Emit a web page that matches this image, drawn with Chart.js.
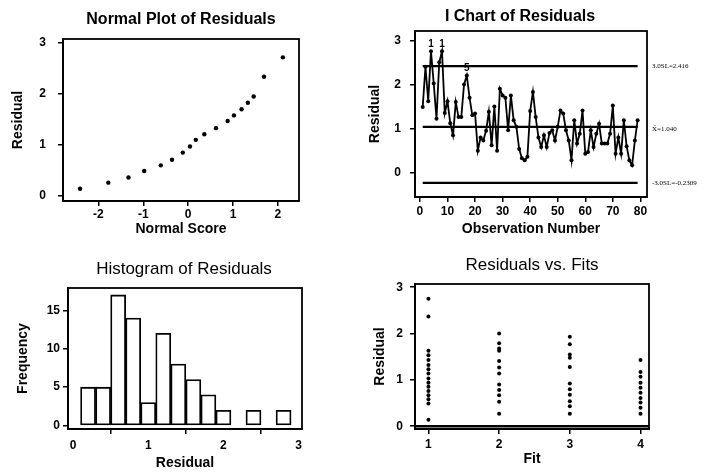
<!DOCTYPE html>
<html>
<head>
<meta charset="utf-8">
<script src="https://cdn.jsdelivr.net/npm/chart.js@4/dist/chart.umd.min.js"></script>
<style>
  html, body { margin: 0; padding: 0; background: #fff; }
  #wrap { position: relative; width: 704px; height: 472px; overflow: hidden; }
  canvas { position: absolute; }
</style>
</head>
<body>
<div id="wrap">
  <canvas id="normalPlot" width="352" height="236" style="left:0;top:0"></canvas>
  <canvas id="iChart" width="352" height="236" style="left:352px;top:0"></canvas>
  <canvas id="histogram" width="352" height="236" style="left:0;top:236px"></canvas>
  <canvas id="resVsFits" width="352" height="236" style="left:352px;top:236px"></canvas>
</div>
<script>
// ---- Normal probability plot ----
const normalScores    = [-2.41, -1.78, -1.33, -0.98, -0.61, -0.36, -0.12, 0.04, 0.17, 0.36, 0.62, 0.88, 1.02, 1.19, 1.33, 1.46, 1.69, 2.11];
const normalResiduals = [0.14, 0.26, 0.36, 0.49, 0.60, 0.71, 0.85, 0.97, 1.10, 1.21, 1.33, 1.47, 1.58, 1.70, 1.83, 1.95, 2.34, 2.72];
const normalXTicks = [-2, -1, 0, 1, 2];
const residualTicks = [0, 1, 2, 3];

// ---- Individuals chart, residual by observation order ----
const residualSeries = [
  1.49, 2.40, 1.62, 2.75, 2.02, 1.22, 2.50, 2.75, 1.35, 1.62,
  1.12, 0.85, 1.60, 1.26, 1.26, 2.00, 2.20, 1.70, 1.30, 1.34,
  0.50, 0.80, 0.73, 0.95, 1.38, 0.62, 1.50, 0.50, 1.90, 1.75,
  1.70, 0.96, 1.75, 1.19, 1.04, 0.54, 0.33, 0.28, 0.36, 1.40,
  1.83, 1.26, 0.80, 0.58, 0.85, 0.58, 0.90, 0.96, 0.73, 1.04,
  1.41, 1.34, 0.96, 0.73, 0.28, 1.19, 0.66, 0.88, 1.41, 0.43,
  0.47, 0.96, 0.58, 0.88, 1.11, 0.66, 0.66, 0.66, 0.88, 1.52,
  0.43, 0.80, 0.43, 1.19, 0.60, 0.28, 0.17, 0.73, 1.19
];
const upperLimit = 2.416;
const centerLine = 1.040;
const lowerLimit = -0.2309;
const controlLabels = ['3.0SL=2.416', 'X\u0304=1.040', '-3.0SL=-0.2309'];
// observations flagged by the special-cause tests, with the test number
const flaggedObs   = [4, 8, 17];
const flaggedTests = ['1', '1', '5'];
const observationTicks = [0, 10, 20, 30, 40, 50, 60, 70, 80];

// ---- Histogram of residuals ----
const binMids   = [0.2, 0.4, 0.6, 0.8, 1.0, 1.2, 1.4, 1.6, 1.8, 2.0, 2.2, 2.4, 2.6, 2.8];
const binCounts = [5, 5, 17, 14, 3, 12, 8, 6, 4, 2, 0, 2, 0, 2];
const histXTicks = [0, 1, 2, 3];
const frequencyTicks = [0, 5, 10, 15];

// ---- Residuals versus fitted values ----
const fitLevels = [1, 2, 3, 4];
const residualsAtFit1 = [2.75, 2.37, 1.63, 1.53, 1.43, 1.32, 1.23, 1.14, 1.03, 0.94, 0.85, 0.76, 0.67, 0.58, 0.49, 0.14];
const residualsAtFit2 = [2.00, 1.79, 1.68, 1.63, 1.41, 1.27, 1.14, 0.90, 0.78, 0.67, 0.53, 0.27];
const residualsAtFit3 = [1.93, 1.77, 1.55, 1.48, 1.28, 0.92, 0.80, 0.68, 0.54, 0.43, 0.27];
const residualsAtFit4 = [1.43, 1.17, 1.07, 0.94, 0.83, 0.72, 0.61, 0.51, 0.40, 0.27];

const FONT = "'Liberation Sans', Arial, Helvetica, sans-serif";

// Black frame round the plotting area
const framePlugin = {
  id: 'frame',
  afterDraw(chart) {
    const { ctx, chartArea: a } = chart;
    ctx.save();
    ctx.strokeStyle = '#000';
    ctx.lineWidth = 1.8;
    ctx.strokeRect(a.left, a.top, a.right - a.left, a.bottom - a.top);
    ctx.restore();
  }
};

// Panel heading placed at a fixed point of the canvas
function headingPlugin(text, x, y, font) {
  return {
    id: 'heading',
    afterDraw(chart) {
      const ctx = chart.ctx;
      ctx.save();
      ctx.fillStyle = '#000';
      ctx.font = font;
      ctx.textAlign = 'center';
      ctx.textBaseline = 'middle';
      ctx.fillText(text, x, y);
      ctx.restore();
    }
  };
}

function axis(min, max, ticks, title, o) {
  return {
    type: 'linear',
    min, max,
    afterBuildTicks: s => { s.ticks = ticks.map(v => ({ value: v })); },
    afterFit: s => {
      if (o.w != null) s.width = o.w;
      if (o.h != null) s.height = o.h;
    },
    grid: { display: true, drawOnChartArea: false, drawTicks: true, tickLength: 5, color: '#000', lineWidth: 1.5 },
    border: { display: true, color: '#000', width: 1.8 },
    ticks: {
      color: '#000', padding: o.tp, maxRotation: 0, autoSkip: false,
      font: { family: FONT, size: 12, weight: 'bold' },
      callback: v => String(v)
    },
    title: {
      display: true, text: title, color: '#000',
      font: { family: FONT, size: o.ts || 14, weight: 'bold' },
      padding: o.titlePad
    }
  };
}

function baseOptions(pad, xScale, yScale) {
  return {
    responsive: false,
    animation: false,
    devicePixelRatio: 1,
    layout: { padding: pad },
    plugins: { legend: { display: false }, tooltip: { enabled: false }, title: { display: false } },
    scales: { x: xScale, y: yScale }
  };
}

// Normal plot
new Chart(document.getElementById('normalPlot'), {
  type: 'scatter',
  data: {
    datasets: [{
      data: normalScores.map((s, i) => ({ x: s, y: normalResiduals[i] })),
      pointRadius: 2.2, pointBackgroundColor: '#000', pointBorderColor: '#000', pointBorderWidth: 0
    }]
  },
  options: baseOptions(
    { left: 0, top: 39, right: 53, bottom: 0 },
    axis(-2.79, 2.47, normalXTicks, 'Normal Score', { h: 35, tp: 1, titlePad: { top: 0, bottom: -2 } }),
    axis(-0.1, 3.08, residualTicks, 'Residual', { w: 63, tp: 12, titlePad: { top: 10, bottom: 0 } })
  ),
  plugins: [framePlugin, headingPlugin('Normal Plot of Residuals', 181, 20, `bold 16px ${FONT}`)]
});

// I chart
const obsPoints = residualSeries.map((r, i) => ({ x: i + 1, y: r }));
const firstObs = 1, lastObs = residualSeries.length;
const limitLine = v => ({
  data: [{ x: firstObs, y: v }, { x: lastObs, y: v }],
  borderColor: '#000', borderWidth: 2.2, pointRadius: 0, showLine: true
});
const controlLabelPlugin = {
  id: 'controlLabels',
  afterDraw(chart) {
    const { ctx, chartArea: a, scales: { x, y } } = chart;
    ctx.save();
    ctx.fillStyle = '#000';
    ctx.font = `7px 'Liberation Serif', 'DejaVu Serif', serif`;
    ctx.textBaseline = 'middle';
    ctx.textAlign = 'left';
    [upperLimit, centerLine, lowerLimit].forEach((v, i) => {
      ctx.fillText(controlLabels[i], a.right + 5, y.getPixelForValue(v) + (i === 1 ? 2 : 0));
    });
    // test numbers above the flagged observations
    ctx.font = `bold 10px ${FONT}`;
    ctx.textAlign = 'center';
    ctx.textBaseline = 'bottom';
    flaggedObs.forEach((obs, i) => {
      ctx.fillText(flaggedTests[i], x.getPixelForValue(obs), y.getPixelForValue(residualSeries[obs - 1]) - 2);
    });
    ctx.restore();
  }
};
new Chart(document.getElementById('iChart'), {
  type: 'scatter',
  data: {
    datasets: [
      {
        data: obsPoints, showLine: true, borderColor: '#000', borderWidth: 1.8,
        pointRadius: 2, pointBackgroundColor: '#000', pointBorderWidth: 0
      },
      limitLine(upperLimit),
      limitLine(centerLine),
      limitLine(lowerLimit)
    ]
  },
  options: baseOptions(
    { left: 0, top: 31, right: 57, bottom: 0 },
    axis(-1.8, 82.4, observationTicks, 'Observation Number', { h: 39, tp: 2, titlePad: { top: 0, bottom: -2 } }),
    axis(-0.55, 3.21, residualTicks, 'Residual', { w: 63, tp: 9, titlePad: { top: 15, bottom: 0 } })
  ),
  plugins: [framePlugin, controlLabelPlugin, headingPlugin('I Chart of Residuals', 168, 17, `bold 16px ${FONT}`)]
});

// Histogram
new Chart(document.getElementById('histogram'), {
  type: 'bar',
  data: {
    datasets: [{
      data: binMids.map((m, i) => ({ x: m, y: binCounts[i] })),
      backgroundColor: '#fff', borderColor: '#000', borderWidth: 1.8,
      barPercentage: 1, categoryPercentage: 1, borderSkipped: false
    }]
  },
  options: (() => {
    const o = baseOptions(
      { left: 0, top: 52, right: 50, bottom: 0 },
      axis(-0.067, 3.045, histXTicks, 'Residual', { h: 43, tp: 4, titlePad: { top: 0, bottom: 0 } }),
      axis(-0.44, 17.9, frequencyTicks, 'Frequency', { w: 68, tp: 3, titlePad: { top: 15, bottom: 0 } })
    );
    o.scales.x.offset = false;
    return o;
  })(),
  plugins: [framePlugin, headingPlugin('Histogram of Residuals', 184, 33, `17px ${FONT}`)]
});

// Residuals versus fits
const fitGroups = [residualsAtFit1, residualsAtFit2, residualsAtFit3, residualsAtFit4];
const fitPoints = [];
fitGroups.forEach((grp, g) => grp.forEach(r => fitPoints.push({ x: fitLevels[g], y: r })));
new Chart(document.getElementById('resVsFits'), {
  type: 'scatter',
  data: {
    datasets: [
      {
        data: fitPoints, pointRadius: 2, pointBackgroundColor: '#000', pointBorderWidth: 0
      },
      {
        data: [{ x: 0.81, y: 0 }, { x: 4.12, y: 0 }],
        showLine: true, borderColor: '#000', borderWidth: 2.5, pointRadius: 0
      }
    ]
  },
  options: baseOptions(
    { left: 0, top: 48, right: 55, bottom: 0 },
    axis(0.81, 4.12, fitLevels, 'Fit', { h: 43, tp: 3, titlePad: { top: 0, bottom: 4 } }),
    axis(-0.06, 3.07, residualTicks, 'Residual', { w: 63, tp: 7, titlePad: { top: 20, bottom: 0 } })
  ),
  plugins: [framePlugin, headingPlugin('Residuals vs. Fits', 180, 29, `17px ${FONT}`)]
});
</script>
</body>
</html>
